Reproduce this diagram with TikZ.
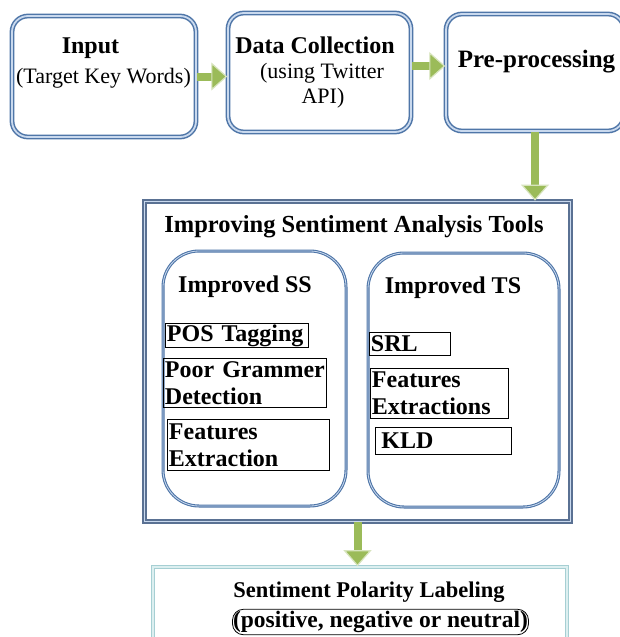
\documentclass[tikz,border=0pt]{standalone}
\usepackage{fontspec}
\setmainfont{Liberation Serif}
\usetikzlibrary{arrows.meta}
\definecolor{boxblue}{HTML}{4F76A8}
\definecolor{boxlight}{HTML}{C9D9EE}
\definecolor{mainblue}{HTML}{5A7193}
\definecolor{gfill}{HTML}{9BBB59}
\definecolor{glight}{HTML}{D7E4BD}
\definecolor{tealb}{HTML}{A6CFD3}
\definecolor{teallight}{HTML}{DCEFF0}
\begin{document}
\begin{tikzpicture}[x=1pt,y=-1pt,
  topbox/.style={draw=boxblue, double=boxlight, double distance=1.8pt, line width=1.5pt, rounded corners=16pt, fill=white, inner sep=0pt},
  mainbox/.style={draw=mainblue, double=boxlight, double distance=1.8pt, line width=1.8pt, fill=white, inner sep=0pt},
  subbox/.style={draw=boxblue, double=boxlight, double distance=0.8pt, line width=1.1pt, rounded corners=36pt, fill=white, inner sep=0pt},
  botbox/.style={draw=tealb, double=teallight, double distance=1.6pt, line width=1.6pt, fill=white, inner sep=0pt},
  bt/.style={font=\bfseries\fontsize{24}{27}\selectfont, inner sep=0pt},
  rt/.style={font=\fontsize{22}{25}\selectfont, inner sep=0pt},
  smallbox/.style={draw=black, line width=0.9pt, inner xsep=1.5pt, inner ysep=0pt, font=\bfseries\fontsize{24}{27}\selectfont, align=left, anchor=north west},
  garrow/.style={line width=8pt, draw=gfill, -{Triangle[length=16pt,width=28pt,fill=gfill,color=glight,line width=1.2pt]}}
]
\useasboundingbox (0,0) rectangle (620,637);
\clip (0,0) rectangle (620,637);
\fill[white] (0,0) rectangle (620,637);

% top row
\node[topbox, minimum width=184pt, minimum height=121pt] (in) at (104,76.5) {};
\node[topbox, minimum width=183pt, minimum height=119pt] (dc) at (319.5,72.5) {};
\node[topbox, minimum width=178pt, minimum height=117pt] (pp) at (535,72.5) {};
\node[bt, anchor=base] (inT) at (90.5,53) {Input};
\node[rt, anchor=base] (inS) at (103.5,83) {(Target Key Words)};
\node[bt, anchor=base] (dcT) at (315,53) {Data Collection};
\node[rt, anchor=base] (dcS1) at (322,78) {(using Twitter};
\node[rt, anchor=base] (dcS2) at (323,103) {API)};
\node[bt, font=\bfseries\fontsize{25}{27}\selectfont, anchor=base] (ppT) at (536.5,67) {Pre-processing};

% main box
\node[mainbox, minimum width=426pt, minimum height=320pt] (main) at (357.5,361.5) {};
\node[bt, font=\bfseries\fontsize{24.5}{27}\selectfont, anchor=base] (mainT) at (354,232) {Improving Sentiment Analysis Tools};
\node[subbox, minimum width=183pt, minimum height=255pt] (ss) at (254.5,378.5) {};
\node[subbox, minimum width=191pt, minimum height=254pt] (ts) at (463.5,380) {};
\node[bt, anchor=base] (ssT) at (245,292) {Improved SS};
\node[bt, anchor=base] (tsT) at (453,293) {Improved TS};

\node[smallbox, text width=140pt, minimum height=24pt] (pos) at (165,323) {POS Tagging};
\node[smallbox, text width=160pt, minimum height=49pt] (pgd) at (163,358) {\mbox{Poor Grammer}\\Detection};
\node[smallbox, text width=159pt, minimum height=51pt] (fe) at (167,419) {Features\\Extraction};
\node[smallbox, text width=78pt, minimum height=23pt] (srl) at (369,332) {SRL};
\node[smallbox, text width=135pt, minimum height=50pt] (fes) at (370,368) {Features\\Extractions};
\node[smallbox, inner xsep=6pt, text width=124pt, minimum height=27pt] (kld) at (375,427) {KLD};

% bottom box
\node[botbox, minimum width=414pt, minimum height=94pt] (bot) at (360,614) {};
\node[bt, font=\bfseries\fontsize{22.5}{26}\selectfont, anchor=base] (botT) at (369,597) {Sentiment Polarity Labeling};
\node[bt, font=\bfseries\fontsize{23.5}{26}\selectfont, draw=black, line width=0.8pt, rounded corners=11pt, inner xsep=0.5pt, inner ysep=2pt] (botS) at (380.5,622) {(positive, negative or neutral)};

% connectors
\draw[garrow] (in.east) -- (dc.west |- in.east);
\draw[garrow] ([yshift=6.5pt]dc.east) -- ([yshift=6.5pt]pp.west);
\draw[garrow] (pp.south) -- (pp.south |- main.north);
\draw[garrow] (main.south) -- (main.south |- bot.north);
\end{tikzpicture}
\end{document}
